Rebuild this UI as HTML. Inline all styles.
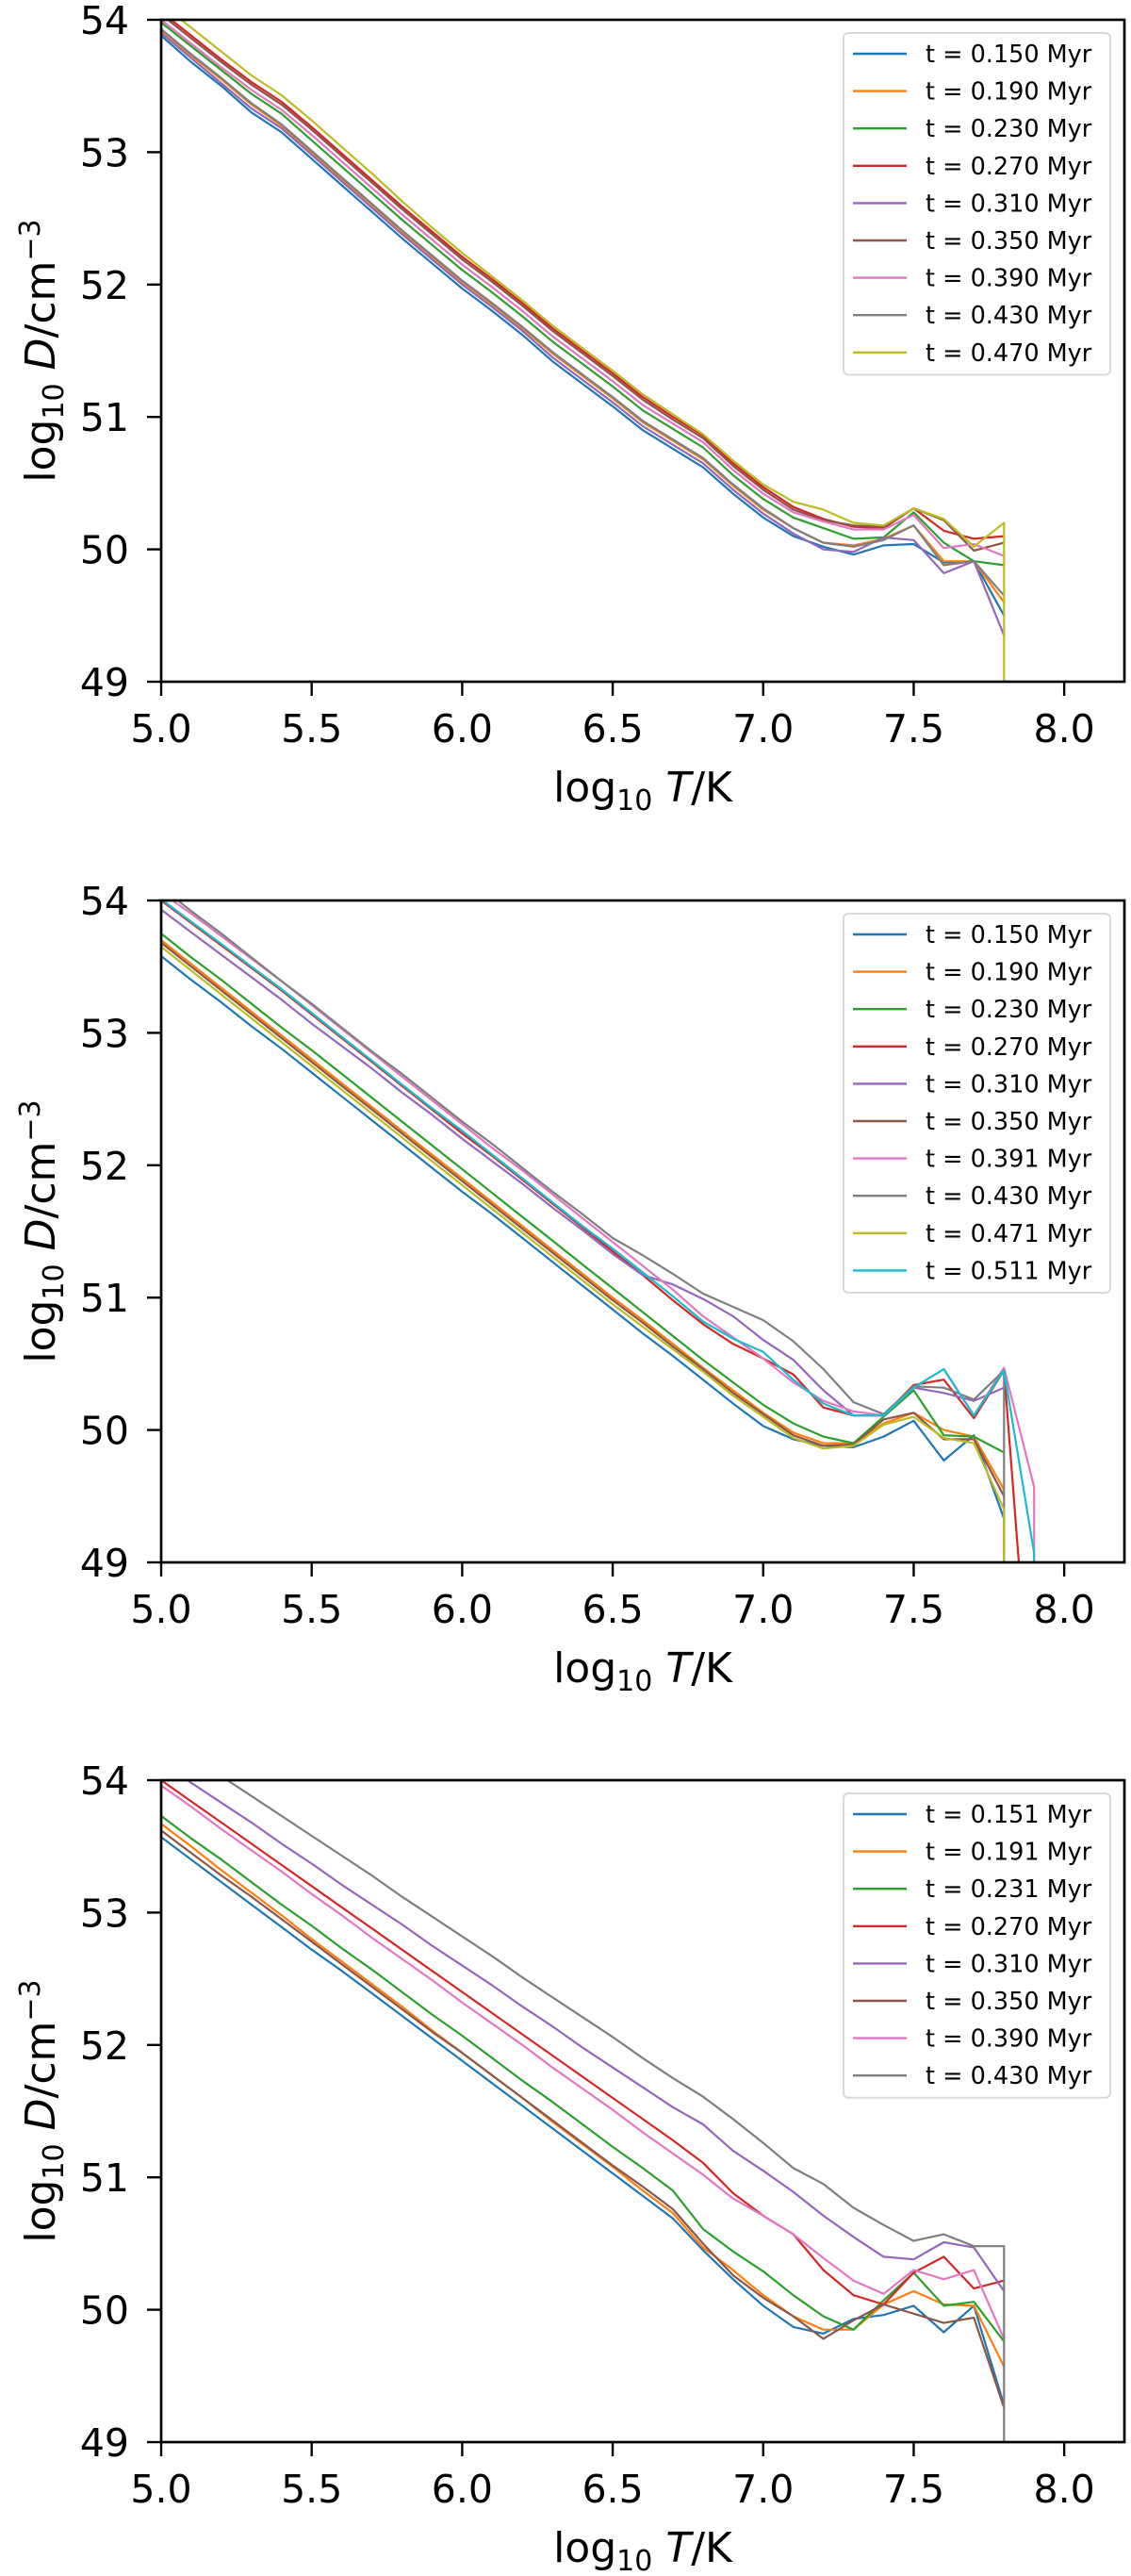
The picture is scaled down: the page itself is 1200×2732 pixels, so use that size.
<!DOCTYPE html>
<html><head><meta charset="utf-8">
<style>
html,body{margin:0;padding:0;background:#fff;}
svg{display:block;}
text{font-family:"DejaVu Sans","Liberation Sans",sans-serif;fill:#000;}
</style></head>
<body>
<svg id="fig" width="1200" height="2732" viewBox="0 0 1200 2732" xmlns="http://www.w3.org/2000/svg"></svg>
<script>
const colors = ["#1f77b4","#ff7f0e","#2ca02c","#d62728","#9467bd","#8c564b","#e377c2","#7f7f7f","#bcbd22","#17becf"];
const xTicks = [5.0,5.5,6.0,6.5,7.0,7.5,8.0];
const yTicks = [49,50,51,52,53,54];
const xTickLabels = ["5.0","5.5","6.0","6.5","7.0","7.5","8.0"];
const yTickLabels = ["49","50","51","52","53","54"];

// Panel 1
const temps1 = [5.0,5.1,5.2,5.3,5.4,5.5,5.6,5.7,5.8,5.9,6.0,6.1,6.2,6.3,6.4,6.5,6.6,6.7,6.8,6.9,7.0,7.1,7.2,7.3,7.4,7.5,7.6,7.7,7.8,7.8];
const labels1 = ["t = 0.150 Myr","t = 0.190 Myr","t = 0.230 Myr","t = 0.270 Myr","t = 0.310 Myr","t = 0.350 Myr","t = 0.390 Myr","t = 0.430 Myr","t = 0.470 Myr"];
const p1_blue   = [53.88,53.68,53.50,53.30,53.15,52.95,52.75,52.55,52.35,52.16,51.97,51.80,51.62,51.42,51.25,51.08,50.90,50.76,50.62,50.42,50.24,50.10,50.02,49.96,50.03,50.04,49.90,49.91,49.50,49.50];
const p1_orange = [53.92,53.73,53.55,53.36,53.20,53.00,52.80,52.60,52.40,52.21,52.02,51.85,51.67,51.48,51.31,51.14,50.96,50.82,50.68,50.48,50.30,50.16,50.05,50.03,50.08,50.18,49.91,49.91,49.60,49.60];
const p1_green  = [53.98,53.80,53.62,53.44,53.29,53.09,52.89,52.69,52.49,52.30,52.11,51.94,51.76,51.57,51.40,51.23,51.05,50.91,50.77,50.56,50.38,50.24,50.16,50.08,50.09,50.28,50.05,49.91,49.88,49.88];
const p1_red    = [54.06,53.88,53.70,53.53,53.38,53.19,52.99,52.79,52.59,52.40,52.21,52.04,51.86,51.67,51.50,51.33,51.15,51.00,50.86,50.65,50.47,50.32,50.23,50.17,50.16,50.31,50.14,50.08,50.10,50.10];
const p1_purple = [53.90,53.71,53.52,53.33,53.18,52.98,52.78,52.58,52.38,52.19,52.00,51.83,51.65,51.45,51.28,51.11,50.93,50.79,50.65,50.45,50.27,50.12,50.00,49.98,50.09,50.07,49.82,49.91,49.35,49.35];
const p1_brown  = [54.04,53.86,53.68,53.51,53.36,53.17,52.97,52.77,52.57,52.38,52.19,52.02,51.84,51.65,51.48,51.31,51.13,50.98,50.84,50.63,50.45,50.30,50.22,50.18,50.17,50.31,50.22,49.99,50.05,50.05];
const p1_pink   = [54.00,53.82,53.64,53.47,53.32,53.13,52.93,52.73,52.53,52.34,52.15,51.98,51.80,51.61,51.44,51.27,51.09,50.95,50.81,50.60,50.42,50.28,50.21,50.15,50.15,50.26,50.01,50.04,49.95,49.95];
const p1_gray   = [53.93,53.74,53.56,53.37,53.21,53.01,52.81,52.61,52.41,52.22,52.03,51.86,51.68,51.49,51.32,51.15,50.97,50.83,50.69,50.49,50.31,50.16,50.05,50.02,50.07,50.18,49.88,49.91,49.65,49.65];
const p1_yellow = [54.12,53.94,53.76,53.58,53.43,53.24,53.04,52.84,52.63,52.43,52.24,52.06,51.88,51.69,51.52,51.35,51.17,51.02,50.87,50.67,50.49,50.36,50.30,50.20,50.18,50.31,50.23,50.02,50.20,48.90];

// Panel 2
const temps2 = [5.0,5.1,5.2,5.3,5.4,5.5,5.6,5.7,5.8,5.9,6.0,6.1,6.2,6.3,6.4,6.5,6.6,6.7,6.8,6.9,7.0,7.1,7.2,7.3,7.4,7.5,7.6,7.7,7.8,7.8,7.9,7.9];
const labels2 = ["t = 0.150 Myr","t = 0.190 Myr","t = 0.230 Myr","t = 0.270 Myr","t = 0.310 Myr","t = 0.350 Myr","t = 0.391 Myr","t = 0.430 Myr","t = 0.471 Myr","t = 0.511 Myr"];
const p2_blue   = [53.58,53.40,53.23,53.05,52.88,52.70,52.52,52.34,52.16,51.98,51.80,51.63,51.45,51.27,51.09,50.91,50.73,50.56,50.38,50.20,50.03,49.93,49.88,49.87,49.95,50.07,49.77,49.96,49.33,49.00,null,null];
const p2_orange = [53.70,53.52,53.34,53.16,52.98,52.80,52.62,52.44,52.26,52.08,51.90,51.72,51.54,51.36,51.18,51.00,50.83,50.65,50.47,50.30,50.13,49.98,49.90,49.90,50.05,50.13,50.00,49.95,49.55,49.55,null,null];
const p2_green  = [53.75,53.57,53.40,53.22,53.04,52.87,52.69,52.51,52.33,52.15,51.97,51.79,51.61,51.43,51.25,51.07,50.89,50.71,50.53,50.36,50.19,50.05,49.95,49.90,50.10,50.30,49.96,49.95,49.83,49.83,null,null];
const p2_red    = [54.00,53.83,53.66,53.49,53.32,53.14,52.96,52.78,52.60,52.42,52.24,52.07,51.89,51.71,51.53,51.35,51.17,50.98,50.80,50.65,50.54,50.42,50.17,50.11,50.11,50.34,50.38,50.09,50.45,50.45,47.50,47.50];
const p2_purple = [53.93,53.76,53.59,53.42,53.25,53.07,52.90,52.73,52.55,52.38,52.20,52.03,51.86,51.68,51.51,51.33,51.17,51.10,50.99,50.86,50.68,50.53,50.30,50.11,50.11,50.32,50.28,50.22,50.32,50.32,null,null];
const p2_brown  = [53.68,53.50,53.32,53.14,52.96,52.78,52.60,52.42,52.24,52.06,51.88,51.70,51.52,51.34,51.16,50.98,50.81,50.63,50.46,50.28,50.12,49.96,49.88,49.89,50.08,50.13,49.93,49.93,49.50,49.50,null,null];
const p2_pink   = [54.06,53.90,53.73,53.56,53.39,53.21,53.03,52.85,52.67,52.49,52.31,52.13,51.96,51.78,51.60,51.42,51.24,51.06,50.86,50.70,50.54,50.36,50.22,50.14,50.11,50.32,50.46,50.11,50.47,50.47,49.57,48.90];
const p2_gray   = [54.10,53.92,53.75,53.57,53.39,53.22,53.04,52.86,52.69,52.51,52.33,52.16,51.98,51.80,51.63,51.45,51.32,51.18,51.03,50.93,50.83,50.67,50.46,50.21,50.12,50.33,50.32,50.23,50.45,48.90,null,null];
const p2_yellow = [53.65,53.47,53.29,53.11,52.93,52.75,52.57,52.39,52.21,52.03,51.85,51.67,51.49,51.31,51.13,50.95,50.78,50.61,50.44,50.26,50.10,49.94,49.86,49.88,50.04,50.10,49.94,49.90,49.40,48.90,null,null];
const p2_cyan   = [54.01,53.84,53.67,53.50,53.33,53.15,52.97,52.79,52.61,52.43,52.26,52.08,51.90,51.72,51.54,51.37,51.19,51.01,50.82,50.69,50.59,50.38,50.20,50.11,50.11,50.32,50.46,50.11,50.45,50.45,49.07,48.90];

// Panel 3
const temps3 = [5.0,5.1,5.2,5.3,5.4,5.5,5.6,5.7,5.8,5.9,6.0,6.1,6.2,6.3,6.4,6.5,6.6,6.7,6.8,6.9,7.0,7.1,7.2,7.3,7.4,7.5,7.6,7.7,7.8,7.8];
const labels3 = ["t = 0.151 Myr","t = 0.191 Myr","t = 0.231 Myr","t = 0.270 Myr","t = 0.310 Myr","t = 0.350 Myr","t = 0.390 Myr","t = 0.430 Myr"];
const p3_blue   = [53.57,53.40,53.23,53.06,52.89,52.72,52.56,52.39,52.22,52.05,51.88,51.71,51.54,51.37,51.20,51.03,50.86,50.69,50.45,50.23,50.03,49.87,49.82,49.93,49.96,50.03,49.83,50.03,49.28,49.28];
const p3_orange = [53.67,53.50,53.32,53.15,52.98,52.80,52.63,52.46,52.29,52.11,51.94,51.77,51.60,51.42,51.25,51.08,50.90,50.73,50.47,50.30,50.11,49.95,49.85,49.85,50.04,50.14,50.04,50.03,49.57,49.57];
const p3_green  = [53.73,53.56,53.40,53.23,53.06,52.90,52.73,52.57,52.40,52.23,52.07,51.90,51.73,51.57,51.40,51.23,51.07,50.90,50.61,50.44,50.29,50.11,49.95,49.85,50.07,50.28,50.03,50.06,49.76,49.76];
const p3_red    = [54.00,53.84,53.68,53.52,53.36,53.20,53.04,52.88,52.72,52.56,52.40,52.24,52.08,51.92,51.76,51.60,51.44,51.28,51.11,50.88,50.71,50.57,50.30,50.11,50.04,50.28,50.40,50.16,50.22,50.22];
const p3_purple = [54.14,53.98,53.83,53.68,53.52,53.37,53.21,53.06,52.91,52.75,52.60,52.45,52.29,52.14,51.98,51.83,51.68,51.53,51.40,51.20,51.05,50.89,50.71,50.55,50.40,50.38,50.51,50.47,50.14,50.14];
const p3_brown  = [53.62,53.45,53.28,53.12,52.95,52.78,52.61,52.44,52.27,52.10,51.94,51.77,51.60,51.43,51.26,51.09,50.93,50.76,50.50,50.26,50.09,49.95,49.78,49.92,50.04,49.97,49.90,49.94,49.26,49.26];
const p3_pink   = [53.96,53.80,53.63,53.47,53.31,53.14,52.98,52.81,52.65,52.49,52.32,52.16,52.00,51.83,51.67,51.51,51.34,51.18,51.02,50.84,50.71,50.57,50.39,50.22,50.12,50.30,50.23,50.30,49.78,49.78];
const p3_gray   = [54.33,54.18,54.03,53.88,53.73,53.58,53.43,53.28,53.12,52.97,52.82,52.67,52.51,52.36,52.21,52.06,51.90,51.75,51.61,51.44,51.26,51.07,50.95,50.77,50.64,50.52,50.57,50.48,50.48,48.90];

const panels = [
  {top:21, temps:temps1, labels:labels1, series:[p1_blue,p1_orange,p1_green,p1_red,p1_purple,p1_brown,p1_pink,p1_gray,p1_yellow]},
  {top:955, temps:temps2, labels:labels2, series:[p2_blue,p2_orange,p2_green,p2_red,p2_purple,p2_brown,p2_pink,p2_gray,p2_yellow,p2_cyan]},
  {top:1888, temps:temps3, labels:labels3, series:[p3_blue,p3_orange,p3_green,p3_red,p3_purple,p3_brown,p3_pink,p3_gray]}
];

const NS = "http://www.w3.org/2000/svg";
const svg = document.getElementById("fig");
const L = 171, R = 1193, H = 702;
function mk(tag, attrs, parent){
  const e = document.createElementNS(NS, tag);
  for (const k in attrs) e.setAttribute(k, attrs[k]);
  parent.appendChild(e);
  return e;
}
panels.forEach((p, pi) => {
  const T = p.top, B = T + H;
  const xs = v => L + (v - 5.0) / 3.2 * (R - L);
  const ys = v => B - (v - 49) / 5 * H;
  const g = mk("g", {}, svg);
  
  
  const cp = mk("clipPath", {id:"clip" + pi}, g);
  mk("rect", {x:L, y:T, width:R-L, height:H}, cp);
  const lines = mk("g", {"clip-path":"url(#clip" + pi + ")"}, g);
  
  
  p.series.forEach((vals, si) => {
    let d = "", pen = false;
    vals.forEach((v, i) => {
      if (v === null) { pen = false; return; }
      d += (pen ? "L" : "M") + xs(p.temps[i]).toFixed(1) + "," + ys(v).toFixed(1);
      pen = true;
    });
    const path = mk("path", {d:d, fill:"none", stroke:colors[si], "stroke-width":2.2, "stroke-linejoin":"round"}, lines);
    
    
  });
  const frame = mk("rect", {x:L, y:T, width:R-L, height:H, fill:"none", stroke:"#000", "stroke-width":2.7}, g);
  
  
  xTicks.forEach((t, i) => {
    const x = xs(t);
    const tk = mk("line", {x1:x, x2:x, y1:B, y2:B+15, stroke:"#000", "stroke-width":2.4}, g);
    
    
    const tx = mk("text", {x:x, y:B+64, "font-size":41, "text-anchor":"middle"}, g);
    
    
    tx.textContent = xTickLabels[i];
  });
  yTicks.forEach((t, i) => {
    const y = ys(t);
    const tk = mk("line", {x1:L-15, x2:L, y1:y, y2:y, stroke:"#000", "stroke-width":2.4}, g);
    
    
    const tx = mk("text", {x:137, y:y+15, "font-size":41, "text-anchor":"end"}, g);
    
    
    tx.textContent = yTickLabels[i];
  });
  const xl = mk("text", {x:(L+R)/2, y:B+127, "font-size":44, "text-anchor":"middle"}, g);
  
  
  xl.innerHTML = 'log<tspan font-size="30" dy="9">10</tspan><tspan dy="-9"> </tspan><tspan font-style="italic">T</tspan>/K';
  const yl = mk("text", {x:0, y:0, "font-size":44, "text-anchor":"middle", transform:"translate(58," + (T + H/2) + ") rotate(-90)"}, g);
  
  
  yl.innerHTML = 'log<tspan font-size="30" dy="9">10</tspan><tspan dy="-9"> </tspan><tspan font-style="italic">D</tspan>/cm<tspan font-size="30" dy="-16">−3</tspan>';
  const n = p.labels.length, step = 39.6;
  const lg = mk("g", {}, g);
  
  
  const box = mk("rect", {x:895, y:T+14, width:283, height:n*step+6, rx:5, fill:"#fff", "fill-opacity":0.85, stroke:"#d9d9d9", "stroke-width":2}, lg);
  
  
  p.labels.forEach((lab, i) => {
    const cy = T + 36 + i * step;
    const ln = mk("line", {x1:905, x2:962, y1:cy, y2:cy, stroke:colors[i], "stroke-width":2.4}, lg);
    
    
    const tx = mk("text", {x:982, y:cy+9, "font-size":25.5}, lg);
    
    
    tx.textContent = lab;
  });
});
</script>
</body></html>
